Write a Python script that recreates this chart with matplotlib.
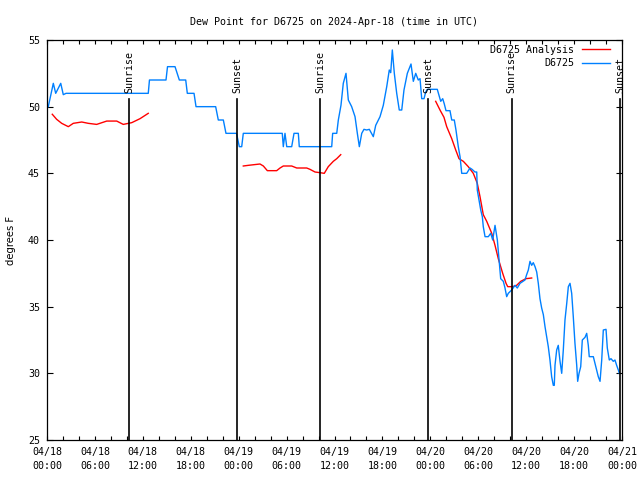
import numpy as np
import pandas as pd
import matplotlib
matplotlib.use("Agg")
import matplotlib.pyplot as plt
import matplotlib.dates as mdates

# hours since 2024-04-18 00:00 UTC, dew point in F
obs_h = [0.16, 0.79, 1.09, 1.72, 2.04, 2.38, 12.68, 12.83, 14.90, 15.09, 16.03, 16.57,
         17.37, 17.57, 18.41, 18.66, 21.12, 21.45, 22.08, 22.41, 23.73, 24.08, 24.38,
         24.58, 29.46, 29.59, 29.80, 30.02, 30.64, 30.93, 31.47, 31.59, 35.65, 35.77,
         36.28, 36.48, 36.81, 37.10, 37.44, 37.73, 38.15, 38.57, 38.86, 39.11, 39.41,
         39.69, 40.03, 40.36, 40.86, 41.16, 41.70, 42.11, 42.54, 42.86, 43.04, 43.24,
         43.49, 43.79, 44.11, 44.42, 44.70, 45.12, 45.58, 45.87, 46.17, 46.49, 46.71,
         46.92, 47.21, 47.42, 47.62, 48.87, 49.30, 49.55, 49.75, 49.96, 50.46, 50.68,
         51.00, 51.21, 51.50, 51.72, 51.93, 52.55, 52.97, 53.22, 53.59, 53.81, 53.88,
         54.31, 54.51, 54.63, 54.85, 55.26, 55.56, 55.81, 56.10, 56.39, 56.64, 56.81,
         57.14, 57.35, 57.56, 57.76, 58.19, 58.60, 58.89, 59.23, 59.85, 60.06, 60.27,
         60.48, 60.69, 60.89, 61.11, 61.32, 61.52, 61.73, 61.94, 62.15, 62.36, 62.57,
         62.77, 62.98, 63.19, 63.40, 63.52, 63.61, 63.82, 64.02, 64.24, 64.45, 64.65,
         64.86, 65.08, 65.28, 65.49, 65.70, 65.90, 66.11, 66.33, 66.45, 66.62, 66.83,
         67.03, 67.37, 67.58, 67.78, 67.90, 68.41, 68.62, 68.83, 69.03, 69.25, 69.46,
         69.66, 70.00, 70.16, 70.41, 70.62, 70.91, 71.12, 71.33, 71.54, 71.67]
obs_f = [50.0, 51.75, 51.0, 51.75, 50.9, 51.0, 51.0, 52.0, 52.0, 53.0, 53.0, 52.0,
         52.0, 51.0, 51.0, 50.0, 50.0, 49.0, 49.0, 48.0, 48.0, 47.0, 47.0,
         48.0, 48.0, 47.0, 48.0, 47.0, 47.0, 48.0, 48.0, 47.0, 47.0, 48.0,
         48.0, 49.0, 50.1, 51.75, 52.5, 50.5, 50.0, 49.25, 48.0, 47.0, 48.0,
         48.3, 48.25, 48.3, 47.75, 48.6, 49.25, 50.1, 51.5, 52.75, 52.55, 54.25,
         52.5, 51.0, 49.75, 49.75, 51.25, 52.5, 53.2, 51.9, 52.5, 52.0, 52.1,
         50.6, 50.6, 51.1, 51.3, 51.3, 50.4, 50.6, 50.2, 49.7, 49.7, 49.0,
         49.0, 48.25, 47.0, 46.25, 45.0, 45.0, 45.4, 45.3, 45.1, 45.1, 43.75,
         42.25, 41.75, 41.0, 40.25, 40.25, 40.5, 40.0, 41.1, 40.0, 38.25, 37.1,
         36.9, 36.4, 35.75, 36.0, 36.25, 36.6, 36.4, 36.75, 37.0, 37.4, 37.75,
         38.4, 38.1, 38.3, 38.0, 37.6, 36.75, 35.6, 34.9, 34.4, 33.5, 32.75,
         32.0, 31.0, 29.75, 29.1, 29.1, 30.6, 31.75, 32.1, 30.9, 30.0, 31.75,
         34.0, 35.25, 36.5, 36.75, 36.0, 34.25, 32.25, 30.6, 29.4, 30.0, 30.5,
         32.5, 32.7, 33.0, 32.1, 31.25, 31.25, 30.75, 30.25, 29.75, 29.4, 31.0,
         33.25, 33.3, 31.9, 31.0, 31.1, 30.9, 31.0, 30.6, 30.25, 30.0]

# analysis, three runs (nan = gap)
ana_h = [0.66, 1.21, 1.84, 2.67, 3.29, 4.35, 5.17, 6.22, 7.48, 8.73, 9.55, 10.61, 11.65, 12.68,
         np.nan,
         24.58, 25.21, 26.67, 27.09, 27.59, 28.76, 29.18, 29.59, 30.64, 31.27, 32.52, 32.93,
         33.56, 34.18, 34.72, 35.22, 35.85, 36.28, 36.78,
         np.nan,
         48.67, 49.21, 49.71, 50.05, 50.68, 51.18, 51.59, 52.13, 52.75, 53.38, 53.88, 54.22,
         54.63, 55.06, 55.69, 56.10, 56.51, 57.06, 57.48, 57.69, 58.31, 58.81, 59.32, 59.98, 60.69]
ana_f = [49.43, 49.05, 48.75, 48.5, 48.75, 48.85, 48.75, 48.67, 48.92, 48.92, 48.67, 48.8, 49.1, 49.5,
         np.nan,
         45.55, 45.6, 45.7, 45.55, 45.2, 45.2, 45.4, 45.55, 45.55, 45.4, 45.4, 45.3,
         45.1, 45.05, 45.0, 45.5, 45.9, 46.1, 46.4,
         np.nan,
         50.4, 49.75, 49.2, 48.5, 47.6, 46.75, 46.1, 45.9, 45.5, 45.0, 44.25, 43.25,
         41.9, 41.4, 40.5, 39.6, 38.6, 37.5, 36.75, 36.5, 36.5, 36.6, 36.9, 37.1, 37.15]

sun_h = [10.27, 23.79, 34.18, 47.70, 58.20, 71.75]
sun_lbl = ["Sunrise", "Sunset", "Sunrise", "Sunset", "Sunrise", "Sunset"]

t0 = pd.Timestamp("2024-04-18 00:00")
def to_t(h):
    return t0 + pd.to_timedelta(np.asarray(h, dtype=float), unit="h")

plt.rcParams["font.family"] = "DejaVu Sans Mono"
plt.rcParams["font.size"] = 7.2

fig = plt.figure(figsize=(6.4, 4.8), dpi=100)
ax = fig.add_axes([47/640, 40/480, 575/640, 400/480])

ax.plot(to_t(ana_h), ana_f, color="#ff0000", lw=1.0, label="D6725 Analysis")
ax.plot(to_t(obs_h), obs_f, color="#0080ff", lw=1.0, label="D6725")

for h, lbl in zip(sun_h, sun_lbl):
    t = to_t([h])[0]
    ax.plot([t, t], [25, 50.6], color="black", lw=1.2)
    ax.text(t, 51.05, lbl, rotation=90, ha="center", va="bottom", fontsize=7.2)

ax.set_xlim(t0, t0 + pd.Timedelta(hours=72))
ax.set_ylim(25, 55)
ax.set_yticks(np.arange(25, 56, 5))
ax.xaxis.set_major_locator(mdates.HourLocator(byhour=[0, 6, 12, 18]))
ax.xaxis.set_minor_locator(mdates.HourLocator(interval=2))
ax.xaxis.set_major_formatter(mdates.DateFormatter("%m/%d\n%H:%M"))
for lab in ax.get_xticklabels():
    lab.set_linespacing(1.45)
ax.tick_params(axis="both", which="both", direction="in", top=True, right=True,
               labelsize=7.2, width=0.8)
ax.tick_params(axis="x", which="both", length=3, pad=5)
ax.tick_params(axis="y", which="major", length=4, pad=5)
for s in ax.spines.values():
    s.set_linewidth(0.9)

ax.set_title("Dew Point for D6725 on 2024-Apr-18 (time in UTC)", fontsize=7.2, pad=11)
ax.set_ylabel("degrees F", fontsize=7.2, family="DejaVu Sans", labelpad=9)

ax.legend(loc="upper right", bbox_to_anchor=(0.981, 0.99), frameon=False,
          markerfirst=False, fontsize=7.2, handlelength=2.8, handletextpad=0.8,
          labelspacing=0.35, borderaxespad=0.0, borderpad=0.1)

fig.savefig("out.png", dpi=100)
